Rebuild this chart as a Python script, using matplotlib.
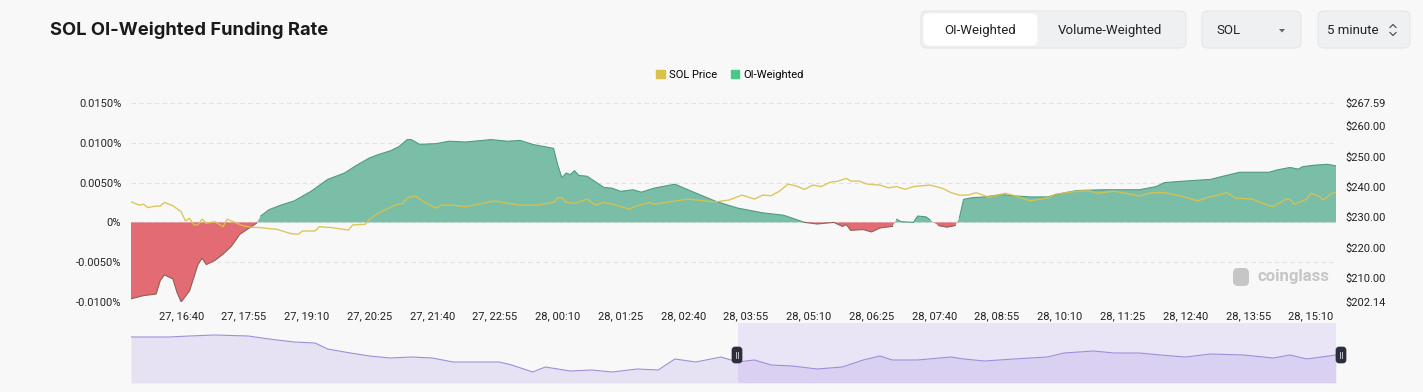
import matplotlib
matplotlib.use("Agg")
import matplotlib.pyplot as plt
from matplotlib.patches import FancyBboxPatch, Patch
import numpy as np

plt.rcParams['font.family'] = ['Roboto', 'DejaVu Sans']

W, H = 1423, 392
BG = '#f8f8f8'

# time axis: minutes after 27, 15:40 (5 minute candles, 24h window)
funding_min = [0, 15, 30, 35, 40, 50, 55, 60, 70, 80, 85, 90, 100, 110, 120, 130,
               150, 155, 165, 170, 180, 195, 215, 235, 255, 270, 285, 295, 310, 320,
               330, 335, 345, 365, 380, 400, 430, 450, 465, 480, 495, 505, 510, 515,
               520, 525, 530, 535, 545, 555, 565, 575, 585, 600, 610, 625, 650, 670,
               700, 725, 755, 780, 805, 820, 840, 850, 855, 860, 875, 885, 895, 910,
               915, 920, 935, 940, 950, 955, 965, 975, 985, 990, 995, 1005, 1020, 1040,
               1060, 1075, 1095, 1110, 1130, 1160, 1205, 1225, 1235, 1260, 1290, 1305,
               1325, 1360, 1370, 1385, 1395, 1400, 1415, 1430, 1440]
funding_pct = [-0.0096, -0.0092, -0.0090, -0.0073, -0.0066, -0.0071, -0.0088, -0.0100,
               -0.0086, -0.0053, -0.0045, -0.0053, -0.0048, -0.0040, -0.0030, -0.0015,
               -0.0001, 0.0008, 0.0016, 0.0018, 0.0022, 0.0027, 0.0039, 0.0054, 0.0062,
               0.0072, 0.0081, 0.0085, 0.0090, 0.0095, 0.0104, 0.0104, 0.0098, 0.0099,
               0.0102, 0.0101, 0.0104, 0.0102, 0.0103, 0.0098, 0.0095, 0.0093, 0.0072,
               0.0056, 0.0062, 0.0060, 0.0065, 0.0059, 0.0058, 0.0051, 0.0044, 0.0043,
               0.0039, 0.0041, 0.0038, 0.0043, 0.0048, 0.0039, 0.0026, 0.0018, 0.0012,
               0.0009, 0.0000, -0.0002, 0.0000, -0.0005, -0.0003, -0.0010, -0.0009,
               -0.0012, -0.0007, -0.0005, 0.0004, 0.0001, 0.0000, 0.0008, 0.0007,
               0.0003, -0.0004, -0.0006, -0.0004, 0.0006, 0.0029, 0.0031, 0.0032,
               0.0035, 0.0033, 0.0032, 0.0032, 0.0036, 0.0040, 0.0041, 0.0041, 0.0045,
               0.0050, 0.0052, 0.0054, 0.0058, 0.0063, 0.0063, 0.0066, 0.0069, 0.0067,
               0.0070, 0.0072, 0.0073, 0.0071]

price_min = [0, 10, 15, 20, 30, 35, 40, 50, 60, 65, 70, 75, 80, 85, 90, 100, 110, 115,
             125, 135, 145, 155, 175, 190, 200, 205, 220, 225, 240, 260, 265, 280, 285,
             295, 305, 315, 325, 330, 340, 350, 365, 370, 385, 400, 420, 435, 450, 465,
             485, 505, 510, 515, 520, 530, 545, 555, 565, 575, 580, 595, 605, 620, 625,
             645, 665, 685, 700, 715, 730, 745, 755, 765, 775, 785, 795, 805, 815, 825,
             835, 845, 855, 860, 870, 880, 895, 905, 915, 925, 935, 955, 970, 980, 990,
             1000, 1010, 1025, 1045, 1060, 1075, 1095, 1105, 1130, 1145, 1155, 1175,
             1205, 1220, 1235, 1255, 1275, 1285, 1310, 1320, 1340, 1355, 1365, 1380,
             1385, 1390, 1405, 1410, 1420, 1425, 1435, 1440]
price_usd = [235.1, 234.0, 234.3, 233.2, 233.7, 233.7, 234.9, 233.8, 231.8, 228.8,
             229.7, 227.5, 227.5, 229.4, 228.0, 228.6, 226.9, 229.4, 228.2, 227.1,
             226.7, 226.6, 226.0, 224.7, 224.4, 225.5, 225.5, 226.9, 226.6, 225.8,
             227.5, 227.7, 229.3, 231.3, 232.6, 234.0, 234.6, 236.4, 237.0, 235.1,
             233.0, 234.0, 234.0, 233.5, 234.6, 235.4, 234.6, 234.0, 234.0, 234.9,
             236.4, 236.4, 234.9, 234.6, 236.0, 234.0, 234.9, 234.3, 234.0, 232.7,
             233.8, 234.9, 234.3, 235.1, 236.0, 235.4, 235.1, 235.7, 237.3, 236.0,
             237.3, 237.1, 238.6, 240.9, 240.3, 239.2, 240.6, 240.1, 241.5, 241.9,
             242.8, 241.9, 241.9, 240.9, 240.6, 239.7, 240.1, 239.2, 240.1, 240.6,
             239.5, 238.1, 237.3, 237.3, 238.1, 236.6, 237.9, 236.8, 235.4, 236.4,
             237.6, 238.6, 238.7, 237.9, 238.6, 237.0, 238.1, 238.1, 237.0, 235.4,
             236.4, 238.1, 236.3, 236.0, 234.3, 233.5, 236.0, 236.0, 234.3, 236.0,
             237.9, 236.8, 235.7, 237.9, 238.1]

# overview (slider) series, arbitrary level units
overview_min = [0, 45, 70, 100, 140, 165, 195, 220, 235, 255, 285, 310, 335, 360, 385,
                415, 440, 455, 480, 495, 525, 550, 575, 605, 630, 650, 675, 705, 725,
                745, 765, 790, 820, 850, 875, 895, 910, 940, 980, 995, 1020, 1055, 1095,
                1115, 1150, 1175, 1205, 1230, 1260, 1290, 1330, 1365, 1385, 1405, 1440]
overview_lvl = [46, 46, 47, 48, 47, 44, 41, 40, 34, 31, 27, 25, 26, 25, 21, 21, 21, 18,
                11, 16, 12, 13, 11, 14, 13, 24, 21, 26, 21, 23, 18, 17, 14, 16, 23, 27,
                23, 23, 26, 24, 22, 24, 26, 30, 32, 30, 30, 28, 26, 29, 28, 25, 28, 24, 28]
selection_start = 725

tick_labels = ['27, 16:40', '27, 17:55', '27, 19:10', '27, 20:25', '27, 21:40',
               '27, 22:55', '28, 00:10', '28, 01:25', '28, 02:40', '28, 03:55',
               '28, 05:10', '28, 06:25', '28, 07:40', '28, 08:55', '28, 10:10',
               '28, 11:25', '28, 12:40', '28, 13:55', '28, 15:10']
left_ticks = [-0.01, -0.005, 0, 0.005, 0.01, 0.015]
right_ticks = [202.14, 210, 220, 230, 240, 250, 260, 267.59]


def label_to_min(lab):
    day, hm = lab.split(', ')
    h, m = hm.split(':')
    return (int(day) - 27) * 1440 + int(h) * 60 + int(m) - (15 * 60 + 40)


fig = plt.figure(figsize=(W / 100, H / 100), dpi=100, facecolor=BG)

# main chart
ax = fig.add_axes([131 / W, 1 - 302 / H, 1205 / W, 199 / H])
ax.set_facecolor('none')
t = np.array(funding_min, dtype=float)
f = np.array(funding_pct)
ax.fill_between(t, f, 0, where=f >= 0, interpolate=True, color='#7bbea8', lw=0, zorder=2)
ax.fill_between(t, f, 0, where=f <= 0, interpolate=True, color='#e26b74', lw=0, zorder=2)
ax.plot(t, np.ma.masked_where(f < 0, f), color='#4e9c80', lw=0.8, zorder=3)
ax.plot(t, np.ma.masked_where(f > 0, f), color='#8a6258', lw=0.8, zorder=3)
ax.set_xlim(0, 1440)
ax.set_ylim(-0.01, 0.015)
ax.set_yticks(left_ticks)
ax.set_yticklabels(['0%' if v == 0 else f'{v:.4f}%' for v in left_ticks])
ax.set_xticks([label_to_min(l) for l in tick_labels])
ax.set_xticklabels(tick_labels)
ax.yaxis.grid(True, ls=(0, (4, 3)), color='#e2e2e2', lw=0.8)
ax.set_axisbelow(True)
ax.tick_params(length=0, labelsize=8, colors='#222222')
ax.tick_params(axis='y', pad=7)
ax.tick_params(axis='x', pad=6.5)
for s in ax.spines.values():
    s.set_visible(False)

ax2 = ax.twinx()
ax2.plot(price_min, price_usd, color='#d9c24c', lw=1.0, alpha=0.9, zorder=4)
ax2.set_ylim(202.14, 267.59)
ax2.set_yticks(right_ticks)
ax2.set_yticklabels([f'${v:.2f}' for v in right_ticks])
ax2.tick_params(length=0, labelsize=8, colors='#222222', pad=6.5)
for s in ax2.spines.values():
    s.set_visible(False)

fig.legend(handles=[Patch(color='#d8c24a'), Patch(color='#4cc885')],
           labels=['SOL Price', 'OI-Weighted'], loc='center',
           bbox_to_anchor=(730 / W, 1 - 75 / H), ncol=2, frameon=False, fontsize=8,
           handlelength=0.8, handleheight=0.8, handletextpad=0.4, columnspacing=1.2)

# slider overview
axs = fig.add_axes([131 / W, 1 - 383 / H, 1205 / W, 60 / H])
axs.set_facecolor('none')
axs.fill_between(overview_min, overview_lvl, 0, color='#e6e1f3', lw=0)
axs.plot(overview_min, overview_lvl, color='#9b90d8', lw=0.8)
axs.axvspan(selection_start, 1440, color='#8b6cf0', alpha=0.13, lw=0)
axs.set_xlim(0, 1440)
axs.set_ylim(0, 60)
axs.axis('off')

# overlay in pixel units for header widgets, title, handles, watermark
ov = fig.add_axes([0, 0, 1, 1])
ov.set_xlim(0, W)
ov.set_ylim(H, 0)
ov.axis('off')
ov.patch.set_alpha(0)

ov.text(50, 30, 'SOL OI-Weighted Funding Rate', fontsize=13.2, fontweight='bold',
        family=['Inter', 'DejaVu Sans'], color='#1a1a1a', va='center', ha='left')

def box(x0, y0, w, h, fc, ec='#e4e6e9', r=6):
    ov.add_patch(FancyBboxPatch((x0, y0), w, h, boxstyle=f'round,pad=0,rounding_size={r}',
                                fc=fc, ec=ec, lw=0.8))

box(921, 11, 265, 37, '#eef0f2')
box(924, 14, 113, 31, '#ffffff', ec='#ffffff', r=5)
ov.text(980, 30, 'OI-Weighted', fontsize=9.5, color='#222222', ha='center', va='center')
ov.text(1110, 30, 'Volume-Weighted', fontsize=9.5, color='#222222', ha='center', va='center')

box(1202, 11, 99, 37, '#eef0f2')
ov.text(1216, 30, 'SOL', fontsize=9.5, color='#222222', ha='left', va='center')
ov.fill([1279, 1285, 1282], [29, 29, 32.5], color='#666666', lw=0)

box(1318, 11, 92, 37, '#eef0f2')
ov.text(1327, 30, '5 minute', fontsize=9.5, color='#222222', ha='left', va='center')
ov.plot([1390, 1393, 1396], [27.5, 24.5, 27.5], color='#444444', lw=0.8)
ov.plot([1390, 1393, 1396], [32.5, 35.5, 32.5], color='#444444', lw=0.8)

# slider handles
for hx in (737, 1341):
    ov.add_patch(FancyBboxPatch((hx - 5, 347), 10, 16, boxstyle='round,pad=0,rounding_size=3',
                                fc='#2e2d3d', ec='#2e2d3d', lw=0.5))
    ov.plot([hx - 1.3, hx - 1.3], [352, 358], color='#d8d8e0', lw=0.6)
    ov.plot([hx + 1.3, hx + 1.3], [352, 358], color='#d8d8e0', lw=0.6)

# watermark
ov.add_patch(FancyBboxPatch((1233, 268), 16, 18, boxstyle='round,pad=0,rounding_size=5',
                            fc='#c6c6c6', ec='none'))
ov.text(1258, 277, 'coinglass', fontsize=12, fontweight='bold', color='#c6c6c6',
        ha='left', va='center')

fig.savefig('out.png', dpi=100, facecolor=BG)
